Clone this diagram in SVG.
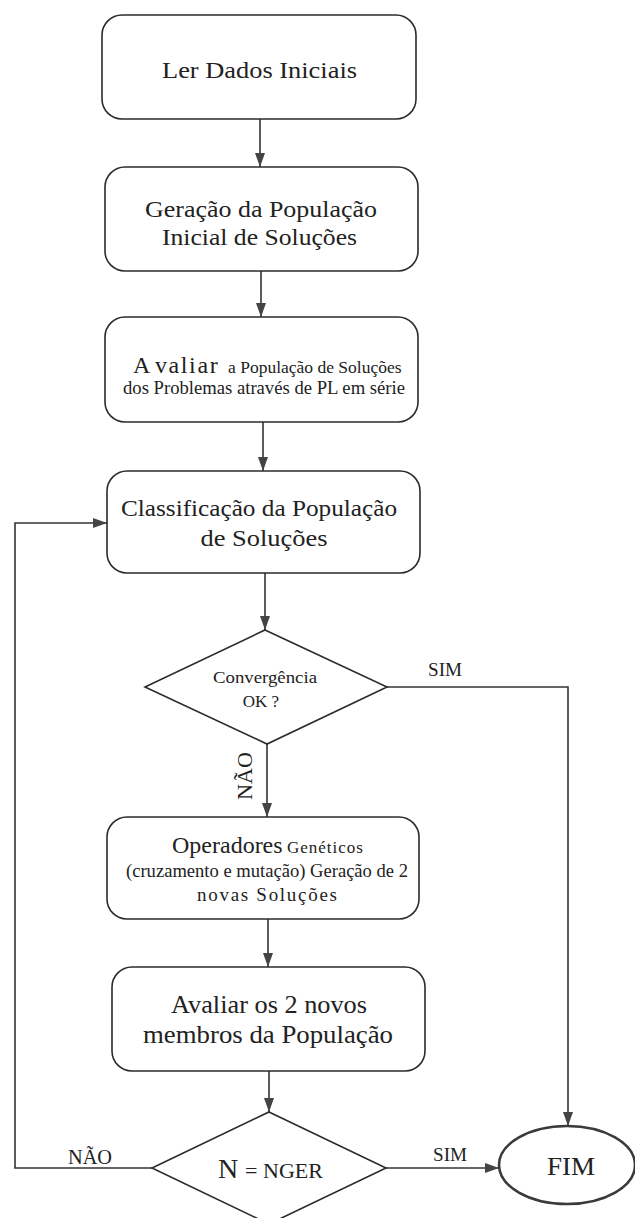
<svg xmlns="http://www.w3.org/2000/svg" width="635" height="1218" viewBox="0 0 635 1218">
<defs>
<style>
.box{fill:#fff;stroke:#2b2b2b;stroke-width:1.6}
.ln{fill:none;stroke:#333;stroke-width:1.6}
text{font-family:"Liberation Serif","Times New Roman",serif;fill:#222}
.c{text-anchor:middle}
</style>
<marker id="ah" viewBox="0 0 14 10" refX="14" refY="5" markerWidth="14" markerHeight="10" markerUnits="userSpaceOnUse" orient="auto">
<path d="M0,0 L14,5 L0,10 z" fill="#444"/>
</marker>
</defs>
<rect width="635" height="1218" fill="#fff"/>

<g id="connectors">
<path class="ln" d="M260,119 V167" marker-end="url(#ah)"/>
<path class="ln" d="M261,271 V317" marker-end="url(#ah)"/>
<path class="ln" d="M263,422 V471" marker-end="url(#ah)"/>
<path class="ln" d="M265,573 V630" marker-end="url(#ah)"/>
<path class="ln" d="M267,744 V817" marker-end="url(#ah)"/>
<path class="ln" d="M268,919 V967" marker-end="url(#ah)"/>
<path class="ln" d="M269,1071 V1112" marker-end="url(#ah)"/>
<path class="ln" d="M387,687 H568 V1126" marker-end="url(#ah)"/>
<path class="ln" d="M386,1168 H499" marker-end="url(#ah)"/>
<path class="ln" d="M152,1168 H15 V523 H107" marker-end="url(#ah)"/>
<text x="445" y="676" class="c" font-size="19" textLength="34" lengthAdjust="spacingAndGlyphs">SIM</text>
<text x="450" y="1161" class="c" font-size="19" textLength="34" lengthAdjust="spacingAndGlyphs">SIM</text>
<text x="90" y="1164" class="c" font-size="20" textLength="44" lengthAdjust="spacingAndGlyphs">NÃO</text>
<text transform="translate(252,776) rotate(-90)" class="c" font-size="20" textLength="48" lengthAdjust="spacingAndGlyphs">NÃO</text>
</g>

<g id="n1">
<rect class="box" x="102" y="15" width="314" height="104" rx="20"/>
<text x="259.5" y="78" class="c" font-size="24" textLength="195" lengthAdjust="spacingAndGlyphs">Ler Dados Iniciais</text>
</g>

<g id="n2">
<rect class="box" x="105" y="167" width="313" height="104" rx="20"/>
<text x="261" y="217" class="c" font-size="24" textLength="232" lengthAdjust="spacingAndGlyphs">Geração da População</text>
<text x="259.5" y="245" class="c" font-size="24" textLength="195" lengthAdjust="spacingAndGlyphs">Inicial de Soluções</text>
</g>

<g id="n3">
<rect class="box" x="105" y="317" width="313" height="105" rx="20"/>
<text y="373"><tspan x="133" font-size="24">A</tspan><tspan x="155" font-size="24" letter-spacing="1.6">valiar</tspan><tspan x="228" font-size="17.5">a População de Soluções</tspan></text>
<text x="264" y="394" class="c" font-size="18.5" textLength="282" lengthAdjust="spacingAndGlyphs">dos Problemas através de PL em série</text>
</g>

<g id="n4">
<rect class="box" x="107" y="471" width="313" height="102" rx="20"/>
<text x="259" y="516" class="c" font-size="24" textLength="276" lengthAdjust="spacingAndGlyphs">Classificação da População</text>
<text x="264" y="546" class="c" font-size="24" textLength="127" lengthAdjust="spacingAndGlyphs">de Soluções</text>
</g>

<g id="d1">
<polygon class="box" points="265,630 387,687 267,744 145,687"/>
<text x="265" y="683" class="c" font-size="17" textLength="104" lengthAdjust="spacingAndGlyphs">Convergência</text>
<text x="261" y="707" class="c" font-size="17">OK ?</text>
</g>

<g id="n5">
<rect class="box" x="107" y="817" width="312" height="102" rx="20"/>
<text y="853"><tspan x="172" font-size="24">Operadores</tspan><tspan x="287" font-size="17" letter-spacing="1">Genéticos</tspan></text>
<text x="267" y="877" class="c" font-size="18.5" textLength="282" lengthAdjust="spacingAndGlyphs">(cruzamento e mutação) Geração de 2</text>
<text x="267" y="901" class="c" font-size="19" textLength="140" lengthAdjust="spacing">novas Soluções</text>
</g>

<g id="n6">
<rect class="box" x="112" y="967" width="313" height="104" rx="20"/>
<text x="269" y="1013" class="c" font-size="25" textLength="196" lengthAdjust="spacingAndGlyphs">Avaliar os 2 novos</text>
<text x="268" y="1043" class="c" font-size="25" textLength="250" lengthAdjust="spacingAndGlyphs">membros da População</text>
</g>

<g id="d2">
<polygon class="box" points="269,1112 386,1168 269,1224 152,1168"/>
<text y="1178"><tspan x="218" font-size="28">N</tspan><tspan x="245" font-size="22">=</tspan><tspan x="263" font-size="22">NGER</tspan></text>
</g>

<g id="fim">
<ellipse cx="567" cy="1165" rx="68" ry="39" fill="#fff" stroke="#3a3a3a" stroke-width="2.6"/>
<text x="571" y="1175" class="c" font-size="26" textLength="48" lengthAdjust="spacingAndGlyphs">FIM</text>
</g>
</svg>
